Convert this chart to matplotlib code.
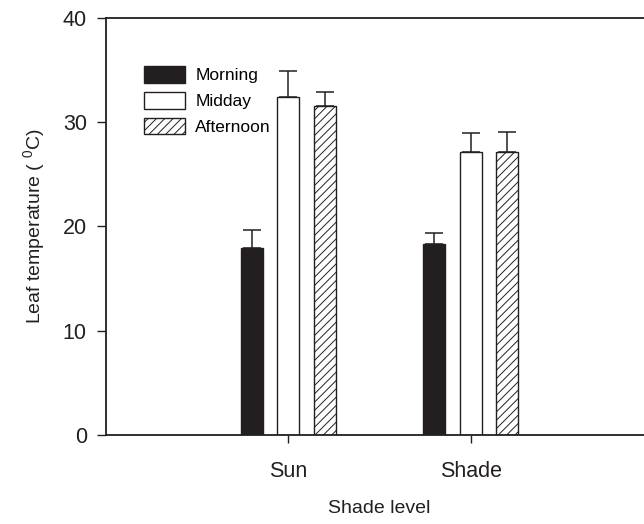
import matplotlib
matplotlib.use("Agg")
import matplotlib.pyplot as plt
import numpy as np

plt.rcParams['font.family'] = ['Liberation Sans', 'DejaVu Sans']
plt.rcParams['hatch.linewidth'] = 0.7
plt.rcParams['mathtext.fontset'] = 'custom'
plt.rcParams['mathtext.rm'] = 'Liberation Sans'
plt.rcParams['mathtext.it'] = 'Liberation Sans'

categories = ["Sun", "Shade"]
times = ["Morning", "Midday", "Afternoon"]
means = {
    "Morning":   [17.9, 18.3],
    "Midday":    [32.4, 27.1],
    "Afternoon": [31.5, 27.1],
}
errors = {
    "Morning":   [1.7, 1.05],
    "Midday":    [2.5, 1.85],
    "Afternoon": [1.4, 1.95],
}
yticks = [0, 10, 20, 30, 40]

ink = "#231f20"
styles = {
    "Morning":   dict(color=ink, hatch=None),
    "Midday":    dict(color="white", hatch=None),
    "Afternoon": dict(color="white", hatch="////"),
}

W, H = 644, 524
fig = plt.figure(figsize=(W / 100, H / 100), dpi=100)
left, right, top, bottom = 105.5, 653.6, 17.5, 435
ax = fig.add_axes([left / W, 1 - bottom / H, (right - left) / W, (bottom - top) / H])

x = np.arange(1, len(categories) + 1)
width = 0.12
offsets = [-0.2, 0.0, 0.2]
for t, off in zip(times, offsets):
    st = styles[t]
    ax.bar(x + off, means[t], width, color=st["color"], edgecolor=ink,
           hatch=st["hatch"], linewidth=1.0, label=t, zorder=2)
    ax.errorbar(x + off, means[t], yerr=[np.zeros(len(categories)), errors[t]],
                fmt="none", ecolor=ink, elinewidth=1.1, capsize=6.3,
                capthick=1.1, zorder=3)

ax.set_xlim(0, 3)
ax.set_ylim(0, 40)
ax.set_yticks(yticks)
ax.set_xticks(x)
ax.set_xticklabels(categories, fontsize=15.5)
ax.tick_params(axis="y", labelsize=15.5, direction="out", length=6.5, width=1.0,
               color=ink, pad=7, labelcolor=ink)
ax.tick_params(axis="x", direction="out", length=5.5, width=1.0, color=ink,
               pad=13, labelcolor=ink)
for s in ["left", "bottom", "top"]:
    ax.spines[s].set_linewidth(1.3)
    ax.spines[s].set_color(ink)
ax.spines["right"].set_visible(False)

ax.set_xlabel("Shade level", fontsize=14, color=ink, labelpad=13)
ax.set_ylabel(r"Leaf temperature ( $^{0}$C)", fontsize=14, color=ink, labelpad=11)

leg = ax.legend(loc="upper left", bbox_to_anchor=(144 / W, 1 - 66 / H),
                bbox_transform=fig.transFigure, frameon=False,
                fontsize=12.5, handlelength=2.36, handleheight=1.1,
                labelspacing=0.5, handletextpad=0.6, borderaxespad=0,
                borderpad=0)

fig.savefig("out.png", dpi=100)
